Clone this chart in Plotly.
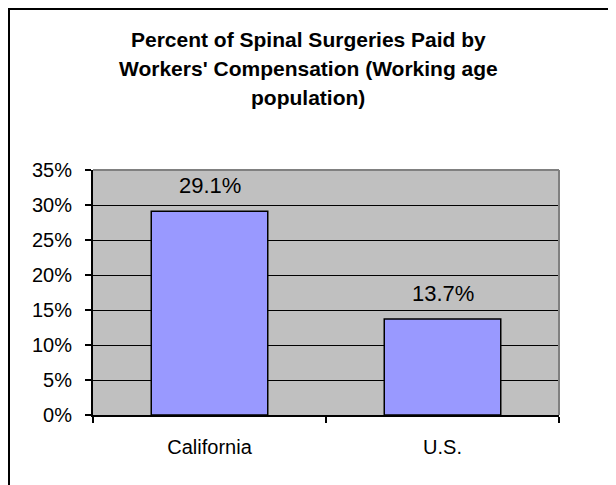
import plotly.graph_objects as go

categories = ["California", "U.S."]
values = [0.291, 0.137]
value_labels = ["29.1%", "13.7%"]
title_lines = ["Percent of Spinal Surgeries Paid by",
               "Workers' Compensation (Working age",
               "population)"]

# page adds an 8px body margin; figure sized to fit the window
OFF = 8
W, H = 616 - OFF, 485 - OFF
L, R, T, B = 85, 57, 162, 70
plot_h = H - T - B
plot_w = W - L - R
FONT = "Liberation Sans, Arial, sans-serif"

def py(y_ref):
    return (H - B - (y_ref - OFF)) / plot_h

def px(x_ref):
    return ((x_ref - OFF) - L) / plot_w

fig = go.Figure(go.Bar(
    x=categories, y=values, width=0.5,
    marker=dict(color="#9999FF", line=dict(color="black", width=1.5)),
    hoverinfo="skip",
))

annotations = []
for cat, v, lab in zip(categories, values, value_labels):
    annotations.append(dict(x=cat, y=v, xref="x", yref="y", text=lab, showarrow=False,
                            yanchor="middle", yshift=26,
                            font=dict(family=FONT, size=22, color="black")))
for i, line in enumerate(title_lines):
    annotations.append(dict(x=px(308), y=py(39.5 + 29 * i), xref="paper", yref="paper",
                            text="<b>%s</b>" % line, showarrow=False,
                            xanchor="center", yanchor="middle",
                            font=dict(family=FONT, size=21, color="black")))

shapes = [
    # outer frame (top & left visible)
    dict(type="rect", xref="paper", yref="paper", x0=px(9), x1=px(616 + 40),
         y0=py(485 + 40), y1=py(9), line=dict(color="black", width=2), layer="above"),
    # plot area top and right gray borders
    dict(type="line", xref="paper", yref="paper", x0=0, x1=1, y0=1, y1=1,
         line=dict(color="#808080", width=2), layer="above"),
    dict(type="line", xref="paper", yref="paper", x0=1, x1=1, y0=0, y1=1,
         line=dict(color="#808080", width=2), layer="above"),
]

fig.update_layout(
    width=W, height=H,
    margin=dict(l=L, r=R, t=T, b=B, pad=0),
    paper_bgcolor="white", plot_bgcolor="#C0C0C0",
    showlegend=False,
    annotations=annotations, shapes=shapes,
    font=dict(family=FONT, color="black"),
    xaxis=dict(type="category", range=[-0.5, 1.5], tickson="boundaries",
               ticks="outside", ticklen=6, tickwidth=2, tickcolor="black",
               showline=True, linecolor="black", linewidth=2,
               showgrid=False, zeroline=False,
               tickfont=dict(family=FONT, size=20, color="black"),
               ticklabelstandoff=13),
    yaxis=dict(range=[0, 0.35], dtick=0.05, tickformat=".0%",
               ticks="outside", ticklen=6, tickwidth=2, tickcolor="black",
               showline=True, linecolor="black", linewidth=2,
               showgrid=True, gridcolor="black", gridwidth=1, zeroline=False,
               tickfont=dict(family=FONT, size=20, color="black"),
               ticklabelstandoff=9),
)

fig.write_html("out.html")
